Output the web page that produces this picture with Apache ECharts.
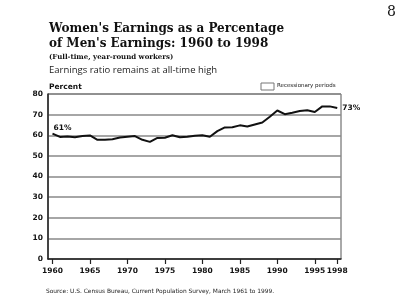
<!DOCTYPE html>
<html>
<head>
<meta charset="utf-8">
<script src="https://cdn.jsdelivr.net/npm/echarts@6/dist/echarts.min.js"></script>
<style>
  html, body { margin: 0; padding: 0; background: #fff; }
  #chart { width: 400px; height: 308px; }
</style>
</head>
<body>
<div id="chart"></div>
<script>
const years = [1960, 1961, 1962, 1963, 1964, 1965, 1966, 1967, 1968, 1969,
  1970, 1971, 1972, 1973, 1974, 1975, 1976, 1977, 1978, 1979,
  1980, 1981, 1982, 1983, 1984, 1985, 1986, 1987, 1988, 1989,
  1990, 1991, 1992, 1993, 1994, 1995, 1996, 1997, 1998];
const ratio = [60.8, 59.2, 59.4, 59.0, 59.6, 59.9, 57.8, 57.8, 58.1, 58.9,
  59.3, 59.6, 57.8, 56.8, 58.7, 58.8, 60.0, 59.0, 59.3, 59.8,
  60.0, 59.3, 62.0, 63.8, 63.9, 64.8, 64.2, 65.2, 66.2, 69.0,
  72.0, 70.2, 70.9, 71.8, 72.1, 71.3, 74.0, 74.0, 73.2];
const xTicks = [1960, 1965, 1970, 1975, 1980, 1985, 1990, 1995, 1998];

const myChart = echarts.init(document.getElementById('chart'));

const labelFont = { fontFamily: 'DejaVu Sans', fontWeight: 'bold', fontSize: 7.5, color: '#111' };

const points = years.map((y, i) => {
  const item = { value: [y, ratio[i]] };
  if (i === 0) {
    item.label = { show: true, position: [1, -10], align: 'left', verticalAlign: 'top', formatter: '61%' };
  }
  if (i === years.length - 1) {
    item.label = { show: true, position: 'right', offset: [3, 0], formatter: '73%' };
  }
  return item;
});

const option = {
  backgroundColor: '#fff',
  animation: false,
  title: [
    {
      text: "Women's Earnings as a Percentage\nof Men's Earnings: 1960 to 1998",
      left: 49, top: 21, padding: 0,
      textStyle: { fontFamily: 'DejaVu Serif', fontWeight: 'bold', fontSize: 12, lineHeight: 15, color: '#111' }
    },
    {
      text: '(Full-time, year-round workers)',
      left: 49, top: 54, padding: 0,
      textStyle: { fontFamily: 'DejaVu Serif', fontWeight: 'bold', fontSize: 7, color: '#111' }
    },
    {
      text: 'Earnings ratio remains at all-time high',
      left: 49, top: 65, padding: 0,
      textStyle: { fontFamily: 'Open Sans', fontWeight: 'normal', fontSize: 9.5, color: '#222' }
    },
    {
      text: 'Percent',
      left: 49, top: 83, padding: 0,
      textStyle: { fontFamily: 'DejaVu Sans', fontWeight: 'bold', fontSize: 7.5, color: '#111' }
    },
    {
      text: 'Recessionary periods',
      left: 277, top: 83, padding: 0,
      textStyle: { fontFamily: 'DejaVu Sans', fontWeight: 'normal', fontSize: 5.5, color: '#222' }
    },
    {
      text: 'Source: U.S. Census Bureau, Current Population Survey, March 1961 to 1999.',
      left: 46, top: 288, padding: 0,
      textStyle: { fontFamily: 'DejaVu Sans', fontWeight: 'normal', fontSize: 5.9, color: '#222' }
    },
    {
      text: '8',
      left: 387, top: 5, padding: 0,
      textStyle: { fontFamily: 'DejaVu Serif', fontWeight: 'normal', fontSize: 14, color: '#111' }
    }
  ],
  graphic: [
    {
      type: 'rect',
      shape: { x: 261, y: 83, width: 13, height: 7 },
      style: { fill: '#fff', stroke: '#777', lineWidth: 1 }
    }
  ],
  grid: {
    left: 48, right: 59, top: 94, bottom: 49,
    show: true, borderColor: '#555', borderWidth: 1
  },
  xAxis: {
    type: 'value',
    min: 1959.4,
    max: 1998.5,
    axisLine: { show: true, onZero: false, lineStyle: { color: '#222', width: 1.5 } },
    axisTick: { show: true, customValues: xTicks, length: 5, lineStyle: { color: '#222', width: 1.2 } },
    axisLabel: Object.assign({
      customValues: xTicks,
      formatter: v => String(v),
      margin: 8
    }, labelFont),
    splitLine: { show: false }
  },
  yAxis: {
    type: 'value',
    min: 0, max: 80, interval: 10,
    axisLine: { show: true, lineStyle: { color: '#222', width: 1.5 } },
    axisTick: { show: false },
    axisLabel: Object.assign({ margin: 5 }, labelFont),
    splitLine: { show: true, lineStyle: { color: '#888', width: 1.5 } }
  },
  series: [
    {
      type: 'line',
      data: points,
      symbol: 'circle',
      symbolSize: 0,
      showSymbol: true,
      lineStyle: { color: '#111', width: 2 },
      itemStyle: { color: '#111' },
      label: labelFont,
      labelLayout: { hideOverlap: false }
    }
  ]
};
myChart.setOption(option);
window.addEventListener('resize', () => myChart.resize());
</script>
</body>
</html>
